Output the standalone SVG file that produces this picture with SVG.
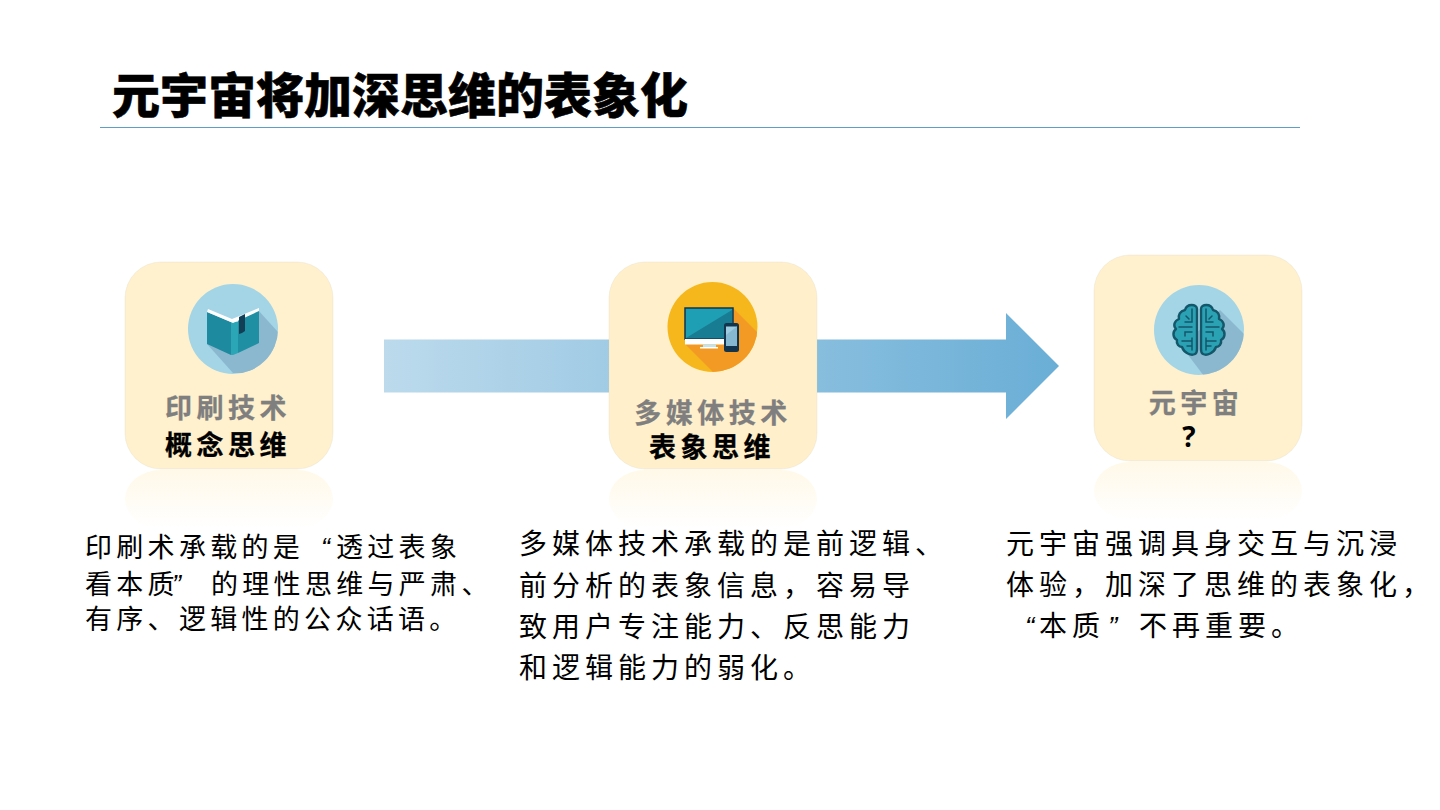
<svg xmlns="http://www.w3.org/2000/svg" width="1440" height="810" viewBox="0 0 1440 810">
<style>
text{font-family:"Noto Sans CJK SC","Open Sans",sans-serif}
.t{font-size:48px;font-weight:900;fill:#000;stroke:#000;stroke-width:.5px}
.g{font-size:27px;font-weight:700;fill:#7f7f7f;letter-spacing:4.500px;text-anchor:middle;stroke:#7f7f7f;stroke-width:.3px}
.k{font-size:27px;font-weight:700;fill:#000;letter-spacing:4.500px;text-anchor:middle;stroke:#000;stroke-width:.3px}
.b{font-size:28px;fill:#000;letter-spacing:5px}
.c{font-size:27px;fill:#000;letter-spacing:4.300px}
.q{font-family:"Liberation Sans",sans-serif;font-style:italic;letter-spacing:0}
.card{stroke:#d9d0b6;stroke-width:.5px;stroke-opacity:.5}
.bl{fill:#a3d5e6}.sh{fill:#8bb8cf}
.ln{stroke:#14566a;fill:none;stroke-width:1.500px;stroke-linecap:round}
.lobe{fill:#2aa2b3;stroke:#14566a;stroke-width:2.400px;stroke-linejoin:round}
</style>
<defs>
<linearGradient id="ar" gradientUnits="userSpaceOnUse" x1="384" x2="1059" y1="0" y2="0"><stop offset="0" stop-color="#bcdaec"/><stop offset="1" stop-color="#6aaed6"/></linearGradient>
<linearGradient id="rf" x1="0" x2="0" y1="0" y2="1"><stop offset="0" stop-color="#fff1cd" stop-opacity=".45"/><stop offset="1" stop-color="#fff1cd" stop-opacity="0"/></linearGradient>
<clipPath id="c1"><circle cx="233" cy="329" r="45"/></clipPath>
<clipPath id="c2"><circle cx="712.500" cy="327" r="45"/></clipPath>
<clipPath id="c3"><circle cx="1199" cy="330" r="45"/></clipPath>
</defs>
<rect width="1440" height="810" fill="#fff"/>
<g id="title"><text class="t" x="112" y="113">元宇宙将加深思维的表象化</text><rect x="100" y="127" width="1200" height="1" fill="#5f9fc4"/></g>
<g id="connectors"><path d="M384 339.500H1006V313L1059 366L1006 419V392.500H384Z" fill="url(#ar)"/></g>
<g id="node1">
<rect x="125" y="470" width="208" height="58" rx="36" fill="url(#rf)"/>
<rect class="card" x="125" y="262" width="208" height="207" rx="36" fill="#fff1cd"/>
<circle cx="233" cy="329" r="45" class="bl"/>
<path d="M207 344L233 373L290 373L290 345L258 310Z" class="sh" clip-path="url(#c1)"/>
<path d="M207 312L231 322V355L207 344Z" fill="#1d8a9f"/><path d="M231 322H238V353L233 355H231Z" fill="#2aa6b6"/><path d="M238 320L259 310V343L238 353Z" fill="#1f8fa3"/>
<path d="M208 309L232 319L259 308V311L233 323L207 312Z" fill="#fff"/><path d="M239 317L245 314V331L242 333L239 334Z" fill="#123f55"/>
<text class="g" x="228" y="418">印刷技术</text><text class="k" x="228" y="455">概念思维</text>
</g>
<g id="node2">
<rect x="609" y="470" width="208" height="58" rx="36" fill="url(#rf)"/>
<rect class="card" x="609" y="262" width="208" height="207" rx="36" fill="#fff0cb"/>
<circle cx="712.500" cy="327" r="45" fill="#f5b71c"/>
<path d="M685 344L715 374L770 374L770 345L733 308Z" fill="#f39a25" clip-path="url(#c2)"/>
<rect x="685" y="308" width="48" height="31" fill="#1f9fb4" stroke="#12354d" stroke-width="1.500"/>
<path d="M686 338L732 310V338Z" fill="#187c93"/><rect x="685" y="339" width="48.500" height="5.500" fill="#fff"/><rect x="703" y="344.500" width="13" height="2.500" fill="#bfe5f0"/><rect x="700" y="347" width="18" height="1.500" fill="#fff"/>
<rect x="724" y="323" width="15" height="29" rx="2.500" fill="#12354d"/><rect x="726" y="326.500" width="11" height="19.500" fill="#9dcbe0"/><path d="M726 335L737 326.500V346H726Z" fill="#86b8d2"/>
<text class="g" x="713" y="423">多媒体技术</text><text class="k" x="712" y="457">表象思维</text>
</g>
<g id="node3">
<rect x="1094" y="462" width="208" height="58" rx="36" fill="url(#rf)"/>
<rect class="card" x="1094" y="255" width="208" height="206" rx="36" fill="#fff1cd"/>
<circle cx="1199" cy="330" r="45" class="bl"/>
<path d="M1182 347L1204 376L1260 376L1260 350L1220 310Z" class="sh" clip-path="url(#c3)"/>
<path class="lobe" d="M1197 309C1197 304 1187 303 1185 310C1180 311 1178 315 1179 319C1174 321 1173 326 1176 329C1172 332 1173 338 1177 340C1176 344 1179 347 1182 347C1184 353 1191 356 1195 354C1197 353 1197 351 1197 349Z"/>
<path class="lobe" d="M1201 309C1201 304 1211 303 1213 310C1218 311 1220 315 1219 319C1224 321 1225 326 1222 329C1226 332 1225 338 1221 340C1222 344 1219 347 1216 347C1214 353 1207 356 1203 354C1201 353 1201 351 1201 349Z"/>
<path class="ln" d="M1192 309V322H1185M1192 327H1179M1186 316L1189 319M1192 332H1185V336M1192 338V350M1192 341H1182M1187 346H1192"/>
<path class="ln" d="M1206 309V322H1213M1206 327H1219M1212 316L1209 319M1206 332H1213V336M1206 338V350M1206 341H1216M1211 346H1206"/>
<text class="g" x="1196" y="413">元宇宙</text><text x="1189" y="447" text-anchor="middle" style="font-family:'Open Sans',sans-serif;font-size:28px;font-weight:700;fill:#000">?</text>
</g>
<g id="desc1"><text class="c" x="85" y="557">印刷术承载的是<tspan class="q" x="321">“</tspan><tspan x="336">透过表象</tspan></text><text class="c" x="85" y="594">看本质<tspan class="q" x="172">”</tspan><tspan x="211">的理性思维与严肃、</tspan></text><text class="c" x="85" y="629">有序、逻辑性的公众话语。</text></g>
<g id="desc2"><text class="b" x="519" y="554">多媒体技术承载的是前逻辑、</text><text class="b" x="519" y="596">前分析的表象信息，容易导</text><text class="b" x="519" y="637">致用户专注能力、反思能力</text><text class="b" x="519" y="678">和逻辑能力的弱化。</text></g>
<g id="desc3"><text class="b" x="1006" y="554">元宇宙强调具身交互与沉浸</text><text class="b" x="1006" y="595">体验，加深了思维的表象化，</text><text class="b" y="636"><tspan class="q" x="1025">“</tspan><tspan x="1039">本质</tspan><tspan class="q" x="1108">”</tspan><tspan x="1139">不再重要。</tspan></text></g>
</svg>
